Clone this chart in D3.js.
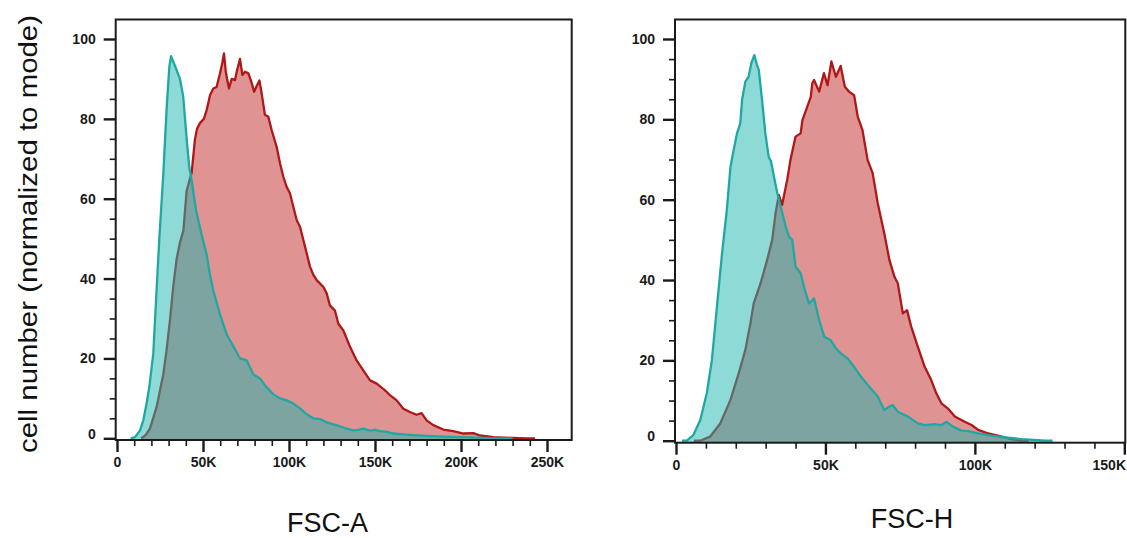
<!DOCTYPE html>
<html>
<head>
<meta charset="utf-8">
<script src="https://cdn.jsdelivr.net/npm/d3@7"></script>
<style>
  html, body { margin: 0; padding: 0; background: #fff; }
  svg { display: block; }
  text { font-family: "Liberation Sans", Arial, Helvetica, sans-serif; }
</style>
</head>
<body>
<svg id="chart" width="1127" height="538"></svg>
<script>
// ---------------- data (x in thousands, y = % of mode) ----------------
const yTickValues = [0, 20, 40, 60, 80, 100];
const yTickLabels = ["0", "20", "40", "60", "80", "100"];
const fscA_tickValues = [0, 50, 100, 150, 200, 250];
const fscA_tickLabels = ["0", "50K", "100K", "150K", "200K", "250K"];
const fscH_tickValues = [0, 50, 100, 150];
const fscH_tickLabels = ["0", "50K", "100K", "150K"];
const axisTitles = ["FSC-A", "FSC-H"];
const yTitle = "cell number (normalized to mode)";

// FSC-A, control (teal)
const fscA_ctrl = [[8,0],[10.5,0.3],[13.4,2],[15.3,4.5],[17.2,8.7],[18.8,12.9],[21.1,21.2],[23.1,37.9],[24.6,50],[26.9,66],[28.9,83],[30.4,93],[31.4,95.7],
  [33.5,93.5],[36.6,90],[38.5,85.6],[40.5,75],[42,68],[43.4,64.5],[46,57],[49.2,51],[52.1,46],[54,41],[56,37],[59.9,31],[63.8,26],
  [67.7,23],[71.5,20],[75.4,19.5],[79.3,16],[83.1,15],[86.5,13],[90.9,11],[94.8,10],[98.6,9.5],[102.5,8.7],[106.4,7.5],[110.3,6],
  [114.1,5],[118,4.8],[121.9,4],[125.8,3.5],[129.7,3],[133.6,2.4],[137.4,2],[140.3,2.1],[143.2,2.4],[147,1.9],[150,2.1],[152.9,1.8],
  [156.8,1.6],[160.7,1.2],[166.5,1],[172.3,0.8],[180,0.6],[190,0.4],[199.4,0.3],[210,0.15],[218.8,0],[230,0]];

// FSC-A, sample (red)
const fscA_samp = [[14,0],[15.3,0.3],[17,1],[19.2,2.5],[21,5],[23.1,8],[25,12],[26.9,16],[28.8,22],[30.8,29.6],[32.7,38],[34.7,45],
  [36.6,49],[38.6,52],[40.5,62],[42.4,65],[43.4,66.5],[45.3,74.8],[46.5,77.5],[48.3,79],[50.5,80],[52,82],[53.1,84],[54.1,86],[56,87.6],
  [57.9,88],[59.9,91.4],[61.2,94],[62.2,96.4],[63.2,92],[64,90],[65.1,87.6],[66.7,90],[68.6,89.7],[69.6,91.8],[71.5,95],[72.9,91],
  [74.4,91.8],[76.4,91.4],[78.3,89],[79.7,86.8],[81.5,88.5],[82.8,89.6],[84.1,86.4],[86,81],[88,80.5],[89.9,77.2],[92.8,73],[94.8,68.8],
  [96.7,65.5],[98.6,63],[100.6,61.3],[102.5,58],[104.5,54.6],[106.4,53],[109.3,48],[112.2,43],[114.1,41],[116.1,39.6],[120,37.9],
  [121.9,36.3],[123.8,33.3],[126.7,32],[128.7,28.7],[131.6,27],[135.5,22.9],[139.3,19.5],[143.2,17],[147.1,14.5],[151,13.7],[154.8,12.4],
  [158.7,10.8],[162.6,9.5],[166.5,7.4],[170.3,6.6],[174.2,5.9],[177.1,6.3],[180,4.5],[183.9,3.3],[189.7,2.2],[195.5,1.8],[201.4,1.2],
  [207.2,1.3],[211,0.7],[218.8,0.3],[230,0.1],[238.2,0],[243,0]];

// FSC-H, control (teal)
const fscH_ctrl = [[2,0],[3.6,0],[5.8,1.4],[8.1,5.1],[10.3,11.8],[12,20],[13.7,33.4],[15.4,46.6],[17,57.4],[18.2,68],[19.3,72.4],[20.4,76.5],
  [21.5,79],[22.1,84.8],[23.2,89.4],[24.3,90.6],[25.2,94],[26.2,96],[27.1,93.5],[27.7,92.3],[28.8,84.8],[29.9,76.5],[31,70.7],[31.8,69.5],
  [32.7,66],[33.9,61.6],[35,58.3],[36.7,53.3],[37.8,50.8],[38.9,50],[40,43.3],[41.7,41.7],[42.8,38.3],[44.5,34.2],[46.2,35.4],[47.9,30],
  [49.6,25.9],[51.8,25],[53.5,23],[55.2,21.7],[57.4,20.5],[59.6,18.4],[61.9,15.9],[64.7,13.4],[67.5,11],[69.7,7.6],[71.4,8.5],[72.5,8.9],
  [74.2,7.2],[77.6,6],[80.9,4.3],[83.2,3.9],[86.5,4.1],[88.8,3.9],[90.5,4.7],[92.7,3.5],[95.5,2.5],[97.8,2.4],[101.1,1.8],[104.5,1.4],
  [110.1,0.8],[115.7,0.4],[123.5,0],[126,0]];

// FSC-H, sample (red)
const fscH_samp = [[6,0],[8.1,0],[11.4,1],[14.8,4.3],[18.2,10.1],[21,16.8],[23.2,22.6],[24.9,29.2],[26,34.2],[28.3,39.2],[30.5,45],[32.2,50],
  [33.3,56.6],[34.4,61.2],[35.5,58.7],[37.2,64.9],[38.3,69.9],[40,75.7],[41.7,76.5],[42.3,79.8],[43.9,83.1],[45.1,85.6],[45.6,89],[46.2,89.8],
  [47.9,86.9],[49.5,91.5],[50.7,88.5],[52,94.4],[53.5,90.6],[55.1,93.3],[56.5,88.1],[57.9,86.9],[59.6,86],[60.8,80.7],[62.4,77.3],[64.1,69.9],
  [65.8,66.6],[67.5,59.1],[69.7,51.6],[71.4,45],[73.1,40.8],[74.2,39.2],[75.9,31.7],[77.3,32.5],[78.7,28.4],[80.9,23.4],[83.2,18.4],
  [85.4,15.1],[87.1,11.8],[88.8,9.3],[91,8],[93.3,6],[96.6,4.7],[98.9,3.9],[101.1,2.7],[104.5,1.8],[109,1],[112.3,0.4],[115.7,0],[118,0]];

// ---------------- layout ----------------
const svg = d3.select("#chart");

const panels = [
  { id: "a", ctrl: fscA_ctrl, samp: fscA_samp, tv: fscA_tickValues, tl: fscA_tickLabels, title: axisTitles[0],
    xMaxTick: 250, xPx: [117, 547], yPx: [438.3, 39], box: { l: 115.7, r: 571.7, t: 19.5, b: 440 },
    titleX: 327.5, titleY: 532 },
  { id: "h", ctrl: fscH_ctrl, samp: fscH_samp, tv: fscH_tickValues, tl: fscH_tickLabels, title: axisTitles[1],
    xMaxTick: 150, xPx: [676, 1124.3], yPx: [440.7, 39], box: { l: 675, r: 1125.3, t: 19.5, b: 442.7 },
    titleX: 912, titleY: 528 }
];

const defs = svg.append("defs");

panels.forEach(p => {
  const x = d3.scaleLinear().domain([0, p.xMaxTick]).range(p.xPx);
  const y = d3.scaleLinear().domain([0, 100]).range(p.yPx);
  const b = p.box;

  defs.append("clipPath").attr("id", "clip-" + p.id)
    .append("rect").attr("x", b.l).attr("y", b.t).attr("width", b.r - b.l).attr("height", b.b - b.t);

  const g = svg.append("g");
  const plot = g.append("g").attr("clip-path", "url(#clip-" + p.id + ")");

  const area = d3.area().x(d => x(d[0])).y0(b.b).y1(d => y(d[1])).curve(d3.curveLinear);
  const line = d3.line().x(d => x(d[0])).y(d => y(d[1])).curve(d3.curveLinear);

  // sample (red) underneath
  plot.append("path").datum(p.samp).attr("d", area)
    .attr("fill", "rgb(192,40,40)").attr("fill-opacity", 0.5);
  plot.append("path").datum(p.samp).attr("d", line)
    .attr("fill", "none").attr("stroke", "#b01818").attr("stroke-width", 2.3).attr("stroke-linejoin", "round");
  // control (teal) on top, translucent
  plot.append("path").datum(p.ctrl).attr("d", area)
    .attr("fill", "rgb(30,182,176)").attr("fill-opacity", 0.5);
  plot.append("path").datum(p.ctrl).attr("d", line)
    .attr("fill", "none").attr("stroke", "#1fa8a3").attr("stroke-width", 2.3).attr("stroke-linejoin", "round");

  // frame
  g.append("rect").attr("x", b.l).attr("y", b.t).attr("width", b.r - b.l).attr("height", b.b - b.t)
    .attr("fill", "none").attr("stroke", "#1a1a1a").attr("stroke-width", 2);

  // x axis: minor ticks
  const minorX = d3.range(0, p.xMaxTick + 0.001, 10).filter(v => v % 50 !== 0);
  const xMinor = g.append("g").attr("transform", `translate(0,${b.b})`)
    .call(d3.axisBottom(x).tickValues(minorX).tickSize(6).tickFormat(""));
  // x axis: major ticks + labels
  const xMajor = g.append("g").attr("transform", `translate(0,${b.b})`)
    .call(d3.axisBottom(x).tickValues(p.tv).tickSize(12).tickPadding(5)
      .tickFormat((d, i) => p.tl[i]));

  // y axis: minor ticks
  const minorY = d3.range(0, 100.001, 5).filter(v => v % 20 !== 0);
  const yMinor = g.append("g").attr("transform", `translate(${b.l},0)`)
    .call(d3.axisLeft(y).tickValues(minorY).tickSize(6).tickFormat(""));
  const yMajor = g.append("g").attr("transform", `translate(${b.l},0)`)
    .call(d3.axisLeft(y).tickValues(yTickValues).tickSize(12).tickPadding(8)
      .tickFormat((d, i) => yTickLabels[i]));

  [xMinor, xMajor, yMinor, yMajor].forEach(a => {
    a.select(".domain").remove();
    a.selectAll(".tick line").attr("stroke", "#1a1a1a");
  });
  xMinor.selectAll(".tick line").attr("stroke-width", 1.6);
  yMinor.selectAll(".tick line").attr("stroke-width", 1.6);
  xMajor.selectAll(".tick line").attr("stroke-width", 2.4);
  yMajor.selectAll(".tick line").attr("stroke-width", 2.4);

  xMajor.selectAll(".tick text").attr("font-size", 14).attr("fill", "#1a1a1a")
    .attr("font-weight", "bold").attr("font-family", "'Liberation Sans', Arial, sans-serif")
    .each(function () {
      // keep the last label inside the page if it would overflow the right edge
      const bb = this.getBBox();
      const tx = +this.parentNode.getAttribute("transform").match(/translate\(([-\d.]+)/)[1];
      const over = tx + bb.x + bb.width - 1126;
      if (over > 0) d3.select(this).attr("x", -over);
    });
  yMajor.selectAll(".tick text").attr("font-size", 14).attr("fill", "#1a1a1a")
    .attr("font-weight", "bold").attr("font-family", "'Liberation Sans', Arial, sans-serif")
    .attr("dy", (d) => d === 0 ? "-0.0em" : "0.32em");

  // axis title
  svg.append("text").attr("x", p.titleX).attr("y", p.titleY)
    .attr("text-anchor", "middle").attr("font-size", 27).attr("fill", "#111")
    .text(p.title);
});

// y title
svg.append("text")
  .attr("transform", "translate(37,234) rotate(-90)")
  .attr("text-anchor", "middle")
  .attr("font-size", 25.5)
  .attr("fill", "#111")
  .attr("textLength", 438)
  .attr("lengthAdjust", "spacingAndGlyphs")
  .text(yTitle);
</script>
</body>
</html>
